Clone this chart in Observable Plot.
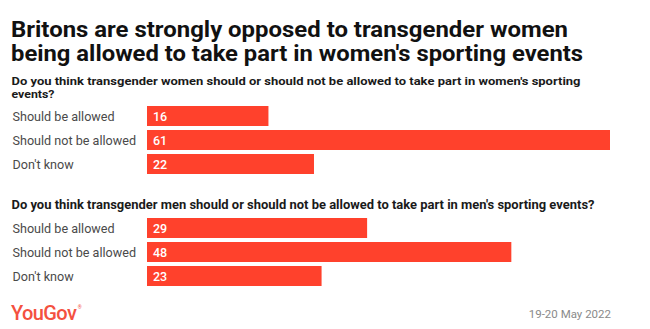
<!DOCTYPE html>
<html>
<head>
<meta charset="utf-8">
<script src="https://cdn.jsdelivr.net/npm/d3@7"></script>
<script src="https://cdn.jsdelivr.net/npm/@observablehq/plot@0.6"></script>
<style>
  html, body { margin: 0; padding: 0; background: #fff; }
  #root { position: relative; width: 650px; height: 329px; overflow: hidden; background: #fff; font-family: Roboto, "Noto Sans", sans-serif; }
  #root > * { position: absolute; left: 0; }
  #header { top: 0; }
</style>
</head>
<body>
<div id="root"></div>
<script>
// ---- data ----
const titleLines = ["Britons are strongly opposed to transgender women", "being allowed to take part in women's sporting events"];
const question1Lines = ["Do you think transgender women should or should not be allowed to take part in women's sporting", "events?"];
const question2Lines = ["Do you think transgender men should or should not be allowed to take part in men's sporting events?"];
const answers = ["Should be allowed", "Should not be allowed", "Don't know"];
const womenValues = [16, 61, 22];
const menValues = [29, 48, 23];
const brand = "YouGov";
const dateLabel = "19-20 May 2022";

const RED = "#ff412c";
const root = document.getElementById("root");

// ---- text layer ----
const svg = d3.create("svg").attr("id", "header").attr("width", 650).attr("height", 329)
  .style("font-family", "Roboto, 'Noto Sans', sans-serif");

// multi-line block: one <text> with a <tspan> per line
function block(lines, x, y, lineHeight, opts) {
  const t = svg.append("text")
    .attr("font-size", opts.size).attr("font-weight", opts.weight || 400).attr("fill", opts.fill || "#111");
  if (opts.anchor) t.attr("text-anchor", opts.anchor);
  lines.forEach((s, i) => {
    const ts = t.append("tspan").attr("x", x).attr("y", y + i * lineHeight).text(s);
    if (opts.lens && opts.lens[i]) ts.attr("textLength", opts.lens[i]).attr("lengthAdjust", "spacingAndGlyphs");
  });
  return t;
}
block(titleLines, 11, 37, 23.5, {size: 22, weight: 700, fill: "#111", lens: [557, 572]});
block(question1Lines, 11.5, 85, 13.2, {size: 11.6, weight: 700, fill: "#1a1a1a", lens: [569, 43]});
block(question2Lines, 11.5, 208.5, 12, {size: 12, weight: 700, fill: "#1a1a1a", lens: [583]});
const logo = block([brand], 11, 320, 0, {size: 20, weight: 500, fill: "#f4513f"});
logo.attr("letter-spacing", "-0.6px");
logo.append("tspan").attr("dx", 1.5).attr("dy", -11).attr("font-size", 5).attr("letter-spacing", 0).text("®");
block([dateLabel], 611, 318, 0, {size: 11.5, fill: "#8a8a8a", anchor: "end"});
root.appendChild(svg.node());

// ---- charts ----
function chart(values, top) {
  const data = answers.map((a, i) => ({answer: a, value: values[i]}));
  const p = Plot.plot({
    width: 650,
    height: 72,
    marginLeft: 147,
    marginRight: 40,
    marginTop: 0,
    marginBottom: 0,
    style: {fontFamily: "Roboto, 'Noto Sans', sans-serif", background: "transparent"},
    x: {domain: [0, 61], axis: null},
    y: {domain: answers, paddingInner: 1/6, paddingOuter: 1/12, axis: null},
    marks: [
      Plot.barX(data, {x: "value", y: "answer", fill: RED}),
      Plot.text(data, {x: 0, y: "answer", text: d => String(d.value), textAnchor: "start", dx: 5.5, fill: "white", fontSize: 12.5, fontWeight: 500}),
      Plot.text(data, {y: "answer", text: "answer", frameAnchor: "left", textAnchor: "start", dx: -135, fill: "#4a4a4a", fontSize: 12.6})
    ]
  });
  p.style.top = top + "px";
  p.style.position = "absolute";
  root.appendChild(p);
}
chart(womenValues, 104);
chart(menValues, 216);
</script>
</body>
</html>
